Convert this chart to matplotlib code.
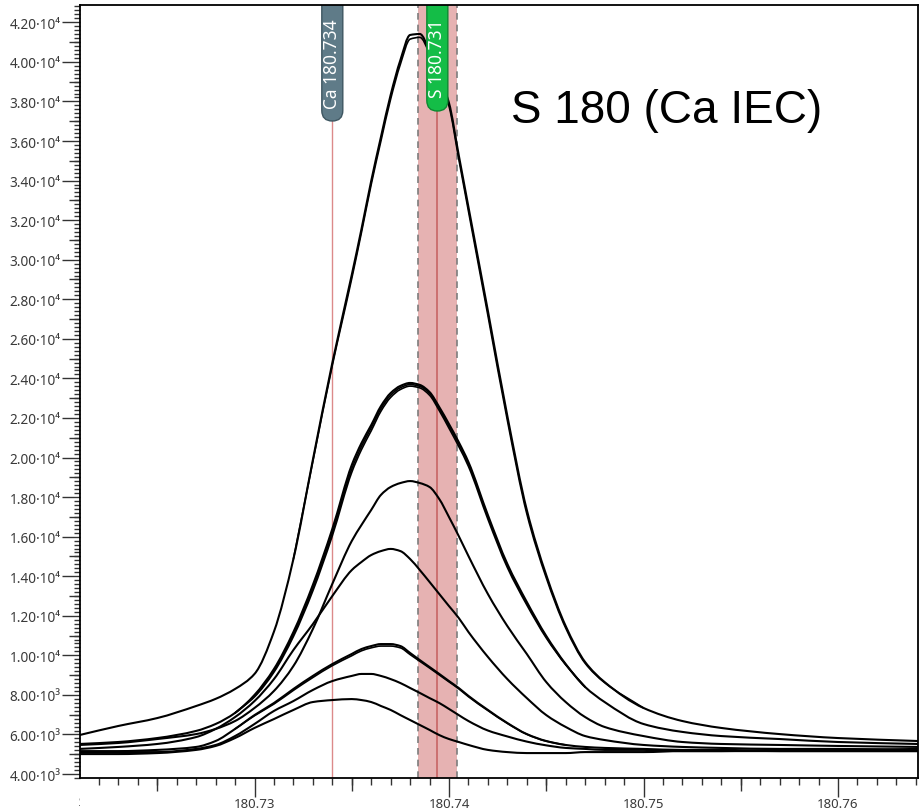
import numpy as np
import matplotlib
matplotlib.use('Agg')
import matplotlib.pyplot as plt
from matplotlib.patches import FancyBboxPatch, PathPatch
from matplotlib.path import Path
from matplotlib.ticker import MultipleLocator, FuncFormatter
from matplotlib.transforms import IdentityTransform, Bbox

plt.rcParams['font.family'] = ['Noto Sans', 'DejaVu Sans']

# m/z grid shared by all scans
mz = [180.7210, 180.7230, 180.7250, 180.7270, 180.7280, 180.7290, 180.7300,
      180.7310, 180.7320, 180.7330, 180.7340, 180.7350, 180.7355, 180.7360,
      180.7365, 180.7370, 180.7375, 180.7380, 180.7385, 180.7390, 180.7395,
      180.7400, 180.7405, 180.7410, 180.7420, 180.7430, 180.7440, 180.7450,
      180.7460, 180.7470, 180.7480, 180.7500, 180.7520, 180.7540, 180.7570,
      180.7600, 180.7641]

# intensities (cps), one list per standard
peak_a = [5970, 6430, 6830, 7440, 7800, 8300, 9060, 11200, 14870, 19880,
          24780, 29230, 31550, 33980, 36200, 38330, 40090, 41360, 41410, 40550,
          39240, 37920, 35290, 32660, 27410, 22100, 17350, 14060, 11480, 9660,
          8650, 7340, 6680, 6330, 6020, 5820, 5670]
peak_b = [5520, 5620, 5820, 6180, 6530, 7090, 8000, 9310, 11180, 13560,
          16390, 19620, 20730, 21640, 22600, 23260, 23620, 23770, 23670, 23310,
          22550, 21690, 20780, 19770, 17090, 14620, 12700, 10980, 9560, 8400,
          7640, 6530, 6130, 5920, 5770, 5620, 5520]
peak_c = [5470, 5570, 5770, 6020, 6280, 6680, 7340, 8200, 9460, 11330,
          13610, 15780, 16590, 17350, 18110, 18510, 18710, 18810, 18710, 18510,
          17900, 16990, 16030, 15020, 13100, 11480, 10070, 8650, 7640, 6880,
          6380, 5920, 5620, 5520, 5470, 5420, 5370]
peak_d = [5270, 5370, 5520, 5870, 6280, 6880, 7690, 8800, 10270, 11580,
          13000, 14310, 14720, 15070, 15270, 15380, 15270, 14870, 14310, 13710,
          13100, 12490, 11890, 11180, 9920, 8800, 7840, 6980, 6380, 5920,
          5720, 5470, 5370, 5320, 5270, 5270, 5220]
peak_e = [5160, 5160, 5220, 5370, 5670, 6280, 6980, 7590, 8300, 8960,
          9560, 10070, 10320, 10470, 10570, 10570, 10470, 10120, 9760, 9410,
          9060, 8700, 8350, 7950, 7240, 6580, 6020, 5670, 5470, 5370,
          5320, 5270, 5220, 5220, 5160, 5160, 5160]
peak_f = [5110, 5110, 5110, 5270, 5470, 5920, 6530, 7190, 7690, 8250,
          8700, 8960, 9060, 9060, 8960, 8800, 8600, 8350, 8100, 7840,
          7590, 7290, 6980, 6680, 6200, 5900, 5640, 5450, 5320, 5270,
          5220, 5220, 5160, 5160, 5160, 5160, 5160]
peak_g = [5010, 5010, 5060, 5220, 5420, 5820, 6330, 6780, 7240, 7640,
          7740, 7790, 7740, 7640, 7440, 7240, 6980, 6730, 6480, 6230,
          5970, 5770, 5620, 5470, 5220, 5110, 5060, 5060, 5060, 5110,
          5110, 5110, 5160, 5160, 5220, 5220, 5270]

# repeat scans, only where they split from the first one
peak_a2 = [14870, 19800, 24650, 29050, 31380, 33800, 36000, 38120, 39880, 41150,
           41240, 40420, 39100, 37760, 35100, 32450, 27180, 21880, 17160, 13920,
           11380, 9600, 8620, 7340]                                            # mz[8:32]
peak_b2 = [7090, 7950, 9230, 11060, 13400, 16200, 19420, 20560, 21500, 22470, 23150,
           23530, 23690, 23600, 23250, 22480, 21600, 20690, 19680, 17000, 14540,
           12630, 10930, 9540, 8400]                                           # mz[5:30]
peak_b3 = [7090, 7900, 9150, 10950, 13260, 16040, 19250, 20400, 21350, 22340, 23040,
           23440, 23610, 23520, 23150, 22370, 21480, 20560, 19550, 16880, 14440,
           12550, 10880, 9520, 8400]                                           # mz[5:30]
peak_e2 = [6280, 6950, 7540, 8230, 8880, 9480, 9980, 10230, 10380, 10470, 10470,
           10380, 10040, 9700, 9360, 9010, 8660, 8310, 7910, 7210, 6560, 6010,
           5660, 5470]                                                         # mz[5:29]

ca_line = 180.7340
s_line = 180.7394
s_window = 0.0010

W, H = 920, 812
fig = plt.figure(figsize=(W / 100, H / 100), dpi=100)
ax = fig.add_axes([80 / W, 1 - 779 / H, 838 / W, 773 / H])
ax.set_xlim(180.721028, 180.764113)
ax.set_ylim(3800, 42875)


def spectrum(x, y, lw=1.5):
    # monotone cubic through the scan points (no overshoot at the peaks)
    x = np.asarray(x, float)
    y = np.asarray(y, float)
    h = np.diff(x)
    d = np.diff(y) / h
    m = np.zeros_like(y)
    m[0], m[-1] = d[0], d[-1]
    for i in range(1, len(y) - 1):
        if d[i - 1] * d[i] > 0:
            w1 = 2 * h[i] + h[i - 1]
            w2 = h[i] + 2 * h[i - 1]
            m[i] = (w1 + w2) / (w1 / d[i - 1] + w2 / d[i])
    verts = [(x[0], y[0])]
    codes = [Path.MOVETO]
    for i in range(len(h)):
        verts += [(x[i] + h[i] / 3, y[i] + m[i] * h[i] / 3),
                  (x[i + 1] - h[i] / 3, y[i + 1] - m[i + 1] * h[i] / 3),
                  (x[i + 1], y[i + 1])]
        codes += [Path.CURVE4] * 3
    ax.add_patch(PathPatch(Path(verts, codes), fill=False, edgecolor='black',
                           lw=lw, zorder=3, capstyle='round', joinstyle='round'))


# integration window
ax.axvspan(s_line - s_window, s_line + s_window, color='#e6b2b2', lw=0, zorder=1)
for x in (s_line - s_window, s_line + s_window):
    ax.axvline(x, color='#7d7d7d', ls=(0, (4, 3)), lw=1.2, zorder=2)
ax.axvline(s_line, color='#c76464', lw=1.2, zorder=2)
ax.axvline(ca_line, color='#dc8a8a', lw=1.0, zorder=2)

for y in (peak_a, peak_b, peak_c, peak_d, peak_e, peak_f, peak_g):
    spectrum(mz, y)
spectrum(mz[8:32], peak_a2, lw=1.2)
spectrum(mz[5:30], peak_b2, lw=1.2)
spectrum(mz[5:30], peak_b3, lw=1.2)
spectrum(mz[5:29], peak_e2, lw=1.2)

# axes and ticks
for sp in ax.spines.values():
    sp.set_linewidth(1.3)
    sp.set_zorder(10)

ax.xaxis.set_major_locator(MultipleLocator(0.01))
ax.xaxis.set_minor_locator(MultipleLocator(0.001))
ax.xaxis.set_major_formatter(FuncFormatter(lambda v, p: f'{v:.2f}'))
ax.yaxis.set_major_locator(MultipleLocator(2000))
ax.yaxis.set_minor_locator(MultipleLocator(200))


def ylab(v, pos):
    if v >= 10000:
        return f'{v / 1e4:.2f}·10⁴'
    return f'{v / 1e3:.2f}·10³'


ax.yaxis.set_major_formatter(FuncFormatter(ylab))
ax.tick_params(axis='x', which='major', length=14, width=1, color='#333333',
               labelsize=9.5, labelcolor='#3a3a3a', pad=0)
ax.tick_params(axis='x', which='minor', length=5, width=1, color='#333333')
ax.tick_params(axis='y', which='major', length=13, width=1, color='#333333',
               labelsize=9.8, labelcolor='#3a3a3a', pad=1)
ax.tick_params(axis='y', which='minor', length=4, width=1, color='#333333')

# mid-level ticks
secx = ax.secondary_xaxis('bottom')
secx.set_xticks([180.725, 180.735, 180.745, 180.755])
secx.tick_params(length=9, width=1, color='#333333', labelbottom=False)
secx.spines['bottom'].set_visible(False)
secy = ax.secondary_yaxis('left')
secy.set_yticks(list(range(5000, 42000, 2000)))
secy.tick_params(length=8, width=1, color='#333333', labelleft=False)
secy.spines['left'].set_visible(False)

# clipped label of the first tick
t = fig.text(ax.transData.transform((180.72, 0))[0] / W, 1 - 803 / H, '180.72',
             ha='center', va='center', fontsize=9.5, color='#3a3a3a')
t.set_clip_box(Bbox([[79, 0], [W, H]]))
t.set_clip_on(True)


# element markers
def marker(x_mz, bottom_px, face, edge, label):
    xc = ax.transData.transform((x_mz, 0))[0]
    box = FancyBboxPatch((xc - 10.5, H - bottom_px), 21, bottom_px + 30,
                         boxstyle='round,pad=0,rounding_size=10.5',
                         transform=IdentityTransform(), facecolor=face,
                         edgecolor=edge, lw=1, zorder=5)
    ax.add_patch(box)
    ax.text(xc, H - (6 + bottom_px) / 2, label, transform=IdentityTransform(),
            rotation=90, ha='center', va='center', color='white',
            fontsize=12.5, zorder=6)


marker(ca_line, 122, '#5f7b88', '#3e5661', 'Ca 180.734')
marker(s_line, 112, '#14bd47', '#0b8a31', 'S 180.731')

fig.text(511 / W, 1 - 123 / H, 'S 180 (Ca IEC)', fontsize=33,
         family='Liberation Sans', ha='left', va='baseline')

fig.savefig('out.png', dpi=100)
